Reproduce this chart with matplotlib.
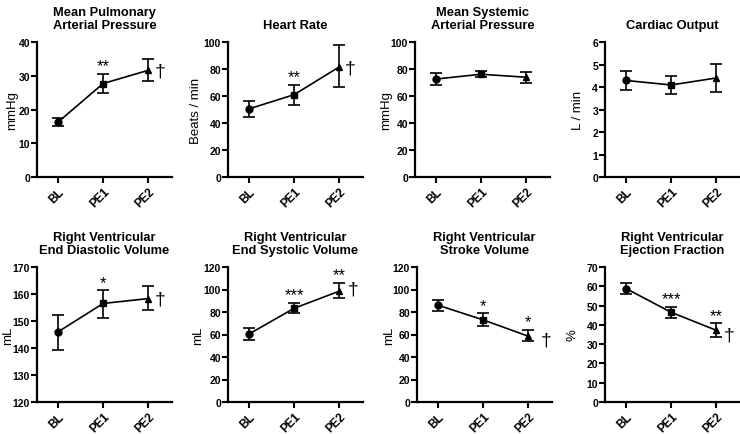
import matplotlib
matplotlib.use("Agg")
import matplotlib.pyplot as plt

plt.rcParams["font.family"] = ["Liberation Sans", "DejaVu Sans"]

# 시점
timepoints = ["BL", "PE1", "PE2"]
markers = ["o", "s", "^"]

titles = [
    "Mean Pulmonary\nArterial Pressure",
    "Heart Rate",
    "Mean Systemic\nArterial Pressure",
    "Cardiac Output",
    "Right Ventricular\nEnd Diastolic Volume",
    "Right Ventricular\nEnd Systolic Volume",
    "Right Ventricular\nStroke Volume",
    "Right Ventricular\nEjection Fraction",
]
ylabels = ["mmHg", "Beats / min", "mmHg", "L / min", "mL", "mL", "mL", "%"]

# 평균값
mpap = [16.3, 27.7, 31.6]
hr = [50.5, 61.0, 81.5]
msap = [72.6, 76.1, 73.9]
co = [4.29, 4.09, 4.40]
rvedv = [146.0, 156.5, 158.3]
rvesv = [60.5, 83.3, 98.5]
rvsv = [86.0, 73.0, 58.5]
rvef = [58.8, 46.5, 37.2]

# 오차 막대 (아래, 위)
mpap_lo = [15.1, 24.8, 28.4]
mpap_hi = [17.6, 30.6, 34.9]
hr_lo = [44.5, 53.5, 66.5]
hr_hi = [56.0, 68.5, 97.5]
msap_lo = [68.2, 74.0, 70.0]
msap_hi = [77.0, 78.5, 77.6]
co_lo = [3.85, 3.67, 3.80]
co_hi = [4.73, 4.48, 5.03]
rvedv_lo = [139.3, 151.2, 153.9]
rvedv_hi = [152.3, 161.3, 162.8]
rvesv_lo = [55.3, 78.7, 92.8]
rvesv_hi = [65.5, 88.0, 105.6]
rvsv_lo = [81.0, 67.2, 53.8]
rvsv_hi = [91.0, 78.7, 64.3]
rvef_lo = [56.1, 43.6, 33.9]
rvef_hi = [61.5, 49.3, 40.8]

means = [mpap, hr, msap, co, rvedv, rvesv, rvsv, rvef]
lows = [mpap_lo, hr_lo, msap_lo, co_lo, rvedv_lo, rvesv_lo, rvsv_lo, rvef_lo]
highs = [mpap_hi, hr_hi, msap_hi, co_hi, rvedv_hi, rvesv_hi, rvsv_hi, rvef_hi]

ylims = [(0, 40), (0, 100), (0, 100), (0, 6), (120, 170), (0, 120), (0, 120), (0, 70)]
ysteps = [10, 20, 20, 1, 10, 20, 20, 10]

# 유의성 표시 (시점별 별표) 와 PE2 옆 단검표 위치
stars = [
    ["", "**", ""],
    ["", "**", ""],
    ["", "", ""],
    ["", "", ""],
    ["", "*", ""],
    ["", "***", "**"],
    ["", "*", "*"],
    ["", "***", "**"],
]
dagger_x = [2.27, 2.25, None, None, 2.27, 2.31, 2.4, 2.29]
dagger_y = [31.5, 81.0, None, None, 158.0, 100.0, 55.0, 34.5]

W, H = 740, 435
lefts = [[37, 228, 415, 605], [37, 228, 417, 605]]
tops = [43, 268]
aw, ah = 135, 135
# y축 제목의 가로 위치 (축선 기준 픽셀)
ylabel_dx = [-25, -32, -29, -27, -29, -30, -28, -32]

fig = plt.figure(figsize=(W / 100, H / 100), dpi=100)

for i in range(8):
    r, c = divmod(i, 4)
    ax = fig.add_axes([lefts[r][c] / W, 1 - (tops[r] + ah) / H, aw / W, ah / H])
    x = range(len(timepoints))
    m = means[i]
    yerr = [[m[k] - lows[i][k] for k in x], [highs[i][k] - m[k] for k in x]]
    ax.errorbar(x, m, yerr=yerr, fmt="none", ecolor="black", elinewidth=1.2,
                capsize=4, capthick=1.2, zorder=2)
    ax.plot(x, m, color="black", lw=1.2, zorder=3)
    for k in x:
        ax.plot(k, m[k], marker=markers[k], color="black", ms=5 if k < 2 else 4, zorder=4)

    span = ylims[i][1] - ylims[i][0]
    for k in x:
        if stars[i][k]:
            ax.text(k, highs[i][k] + span * 0.005, stars[i][k], ha="center", va="bottom",
                    fontsize=12)
    if dagger_y[i] is not None:
        ax.text(dagger_x[i], dagger_y[i], "\u2020", ha="center", va="center", fontsize=14)

    ax.set_xlim(-0.47, 2.53)
    ax.set_ylim(*ylims[i])
    lo, hi = ylims[i]
    ax.set_yticks([lo + ysteps[i] * n for n in range(int(round(span / ysteps[i])) + 1)])
    ax.set_xticks(list(x))
    ax.set_xticklabels(timepoints, rotation=45, ha="right", rotation_mode="anchor",
                       fontweight="bold", fontsize=8.5)
    for lab in ax.get_yticklabels():
        lab.set_fontweight("bold")
    ax.tick_params(axis="both", width=1.5, length=4, direction="out")
    ax.tick_params(axis="y", labelsize=7.5, pad=1)
    ax.tick_params(axis="x", pad=2)
    for s in ["top", "right"]:
        ax.spines[s].set_visible(False)
    for s in ["left", "bottom"]:
        ax.spines[s].set_linewidth(1.6)
    ax.set_ylabel(ylabels[i], fontsize=9.5, va="center")
    ax.yaxis.set_label_coords(ylabel_dx[i] / aw, 0.5)
    ax.set_title(titles[i], fontweight="bold", fontsize=9.3, pad=10, linespacing=1.15)

fig.savefig("out.png", dpi=100)
